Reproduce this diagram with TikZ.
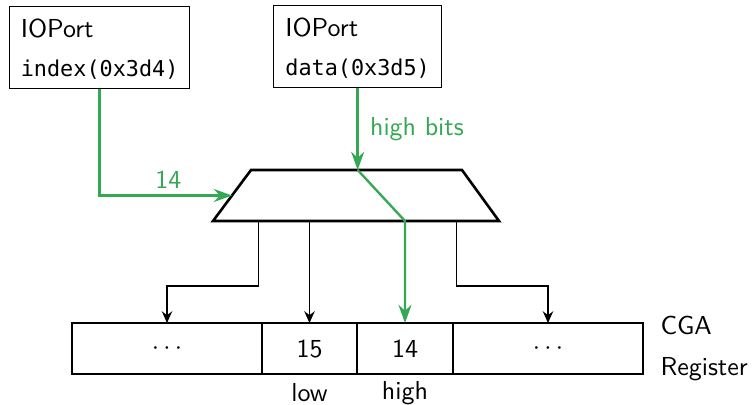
\documentclass[tikz,border=0pt]{standalone}
\usepackage{fontspec}
\setmonofont{DejaVu Sans Mono}[Scale=0.84]
\usetikzlibrary{shapes.geometric, arrows.meta, positioning, calc}
\definecolor{busgreen}{HTML}{34A853}
\newcommand{\pxu}{0.385pt}

\begin{document}
\begin{tikzpicture}[x=\pxu, y=-\pxu, font=\sffamily,
        node distance=0pt,
        port/.style={draw, line width=0.5pt, align=left, anchor=north west, inner xsep=4pt, minimum height=82*\pxu, text depth=0pt},
        muxline/.style={draw, line width=1pt, line join=miter},
        cell/.style={draw, line width=0.5pt, minimum height=51*\pxu, outer sep=0pt, inner sep=0pt},
        wire/.style={-{Stealth[length=4.5pt, width=4pt]}, line width=0.5pt},
        bus/.style={-{Stealth[length=7pt, width=5pt]}, busgreen, line width=0.9pt},
        buslabel/.style={text=busgreen}
    ]
        \useasboundingbox (0,0) rectangle (753,404);

        % IO PORTS
        \node[port, minimum width=180*\pxu] (idx) at (9,6) {IOPort\\[3pt]\texttt{index(0x3d4)}};
        \node[port, minimum width=168*\pxu] (dat) at (273,5) {IOPort\\[3pt]\texttt{data(0x3d5)}};

        % MULTIPLEXER
        \path[muxline] (213,221) coordinate (muxBL) -- (251,170) coordinate (muxTL)
            -- (462,170) coordinate (muxTR) -- (499,221) coordinate (muxBR) -- cycle;
        \coordinate (muxW) at ($(muxBL)!0.5!(muxTL)$);
        \coordinate (muxN) at (dat.south |- muxTL);
        \coordinate (muxS) at (muxN |- muxBL);

        % CGA REGISTER
        \node[cell, minimum width=190*\pxu] (regA) at (167,348.5) {$\cdots$};
        \node[cell, minimum width=95*\pxu, right=of regA] (regB) {15};
        \node[cell, minimum width=96*\pxu, right=of regB] (regC) {14};
        \node[cell, minimum width=190*\pxu, right=of regC] (regD) {$\cdots$};
        \node[below=0pt of regB] (lowlbl) {low};
        \node[below=0pt of regC, yshift=0.8pt] (highlbl) {high};
        \node[align=left, anchor=west, inner sep=0pt] (reglbl) at (660,348.5) {CGA\\[4pt]Register};

        % CONNECTORS
        \draw[bus] (idx.south) |- node[pos=0.76, above=-1pt, buslabel] {14} (muxW);
        \draw[bus] (dat.south) -- node[midway, right=1pt, buslabel] {high bits} (muxN);
        \draw[bus] (muxN) -- (muxS -| regC.north) -- (regC.north);

        \coordinate (tapL) at ($(muxS)+(-99,0)$);
        \coordinate (tapR) at ($(muxS)+(99,0)$);
        \draw[wire] (tapL) -- ++(0,65) -| (regA.north);
        \draw[wire] (muxS -| regB.north) -- (regB.north);
        \draw[wire] (tapR) -- ++(0,65) -| (regD.north);
    \end{tikzpicture}
\end{document}
